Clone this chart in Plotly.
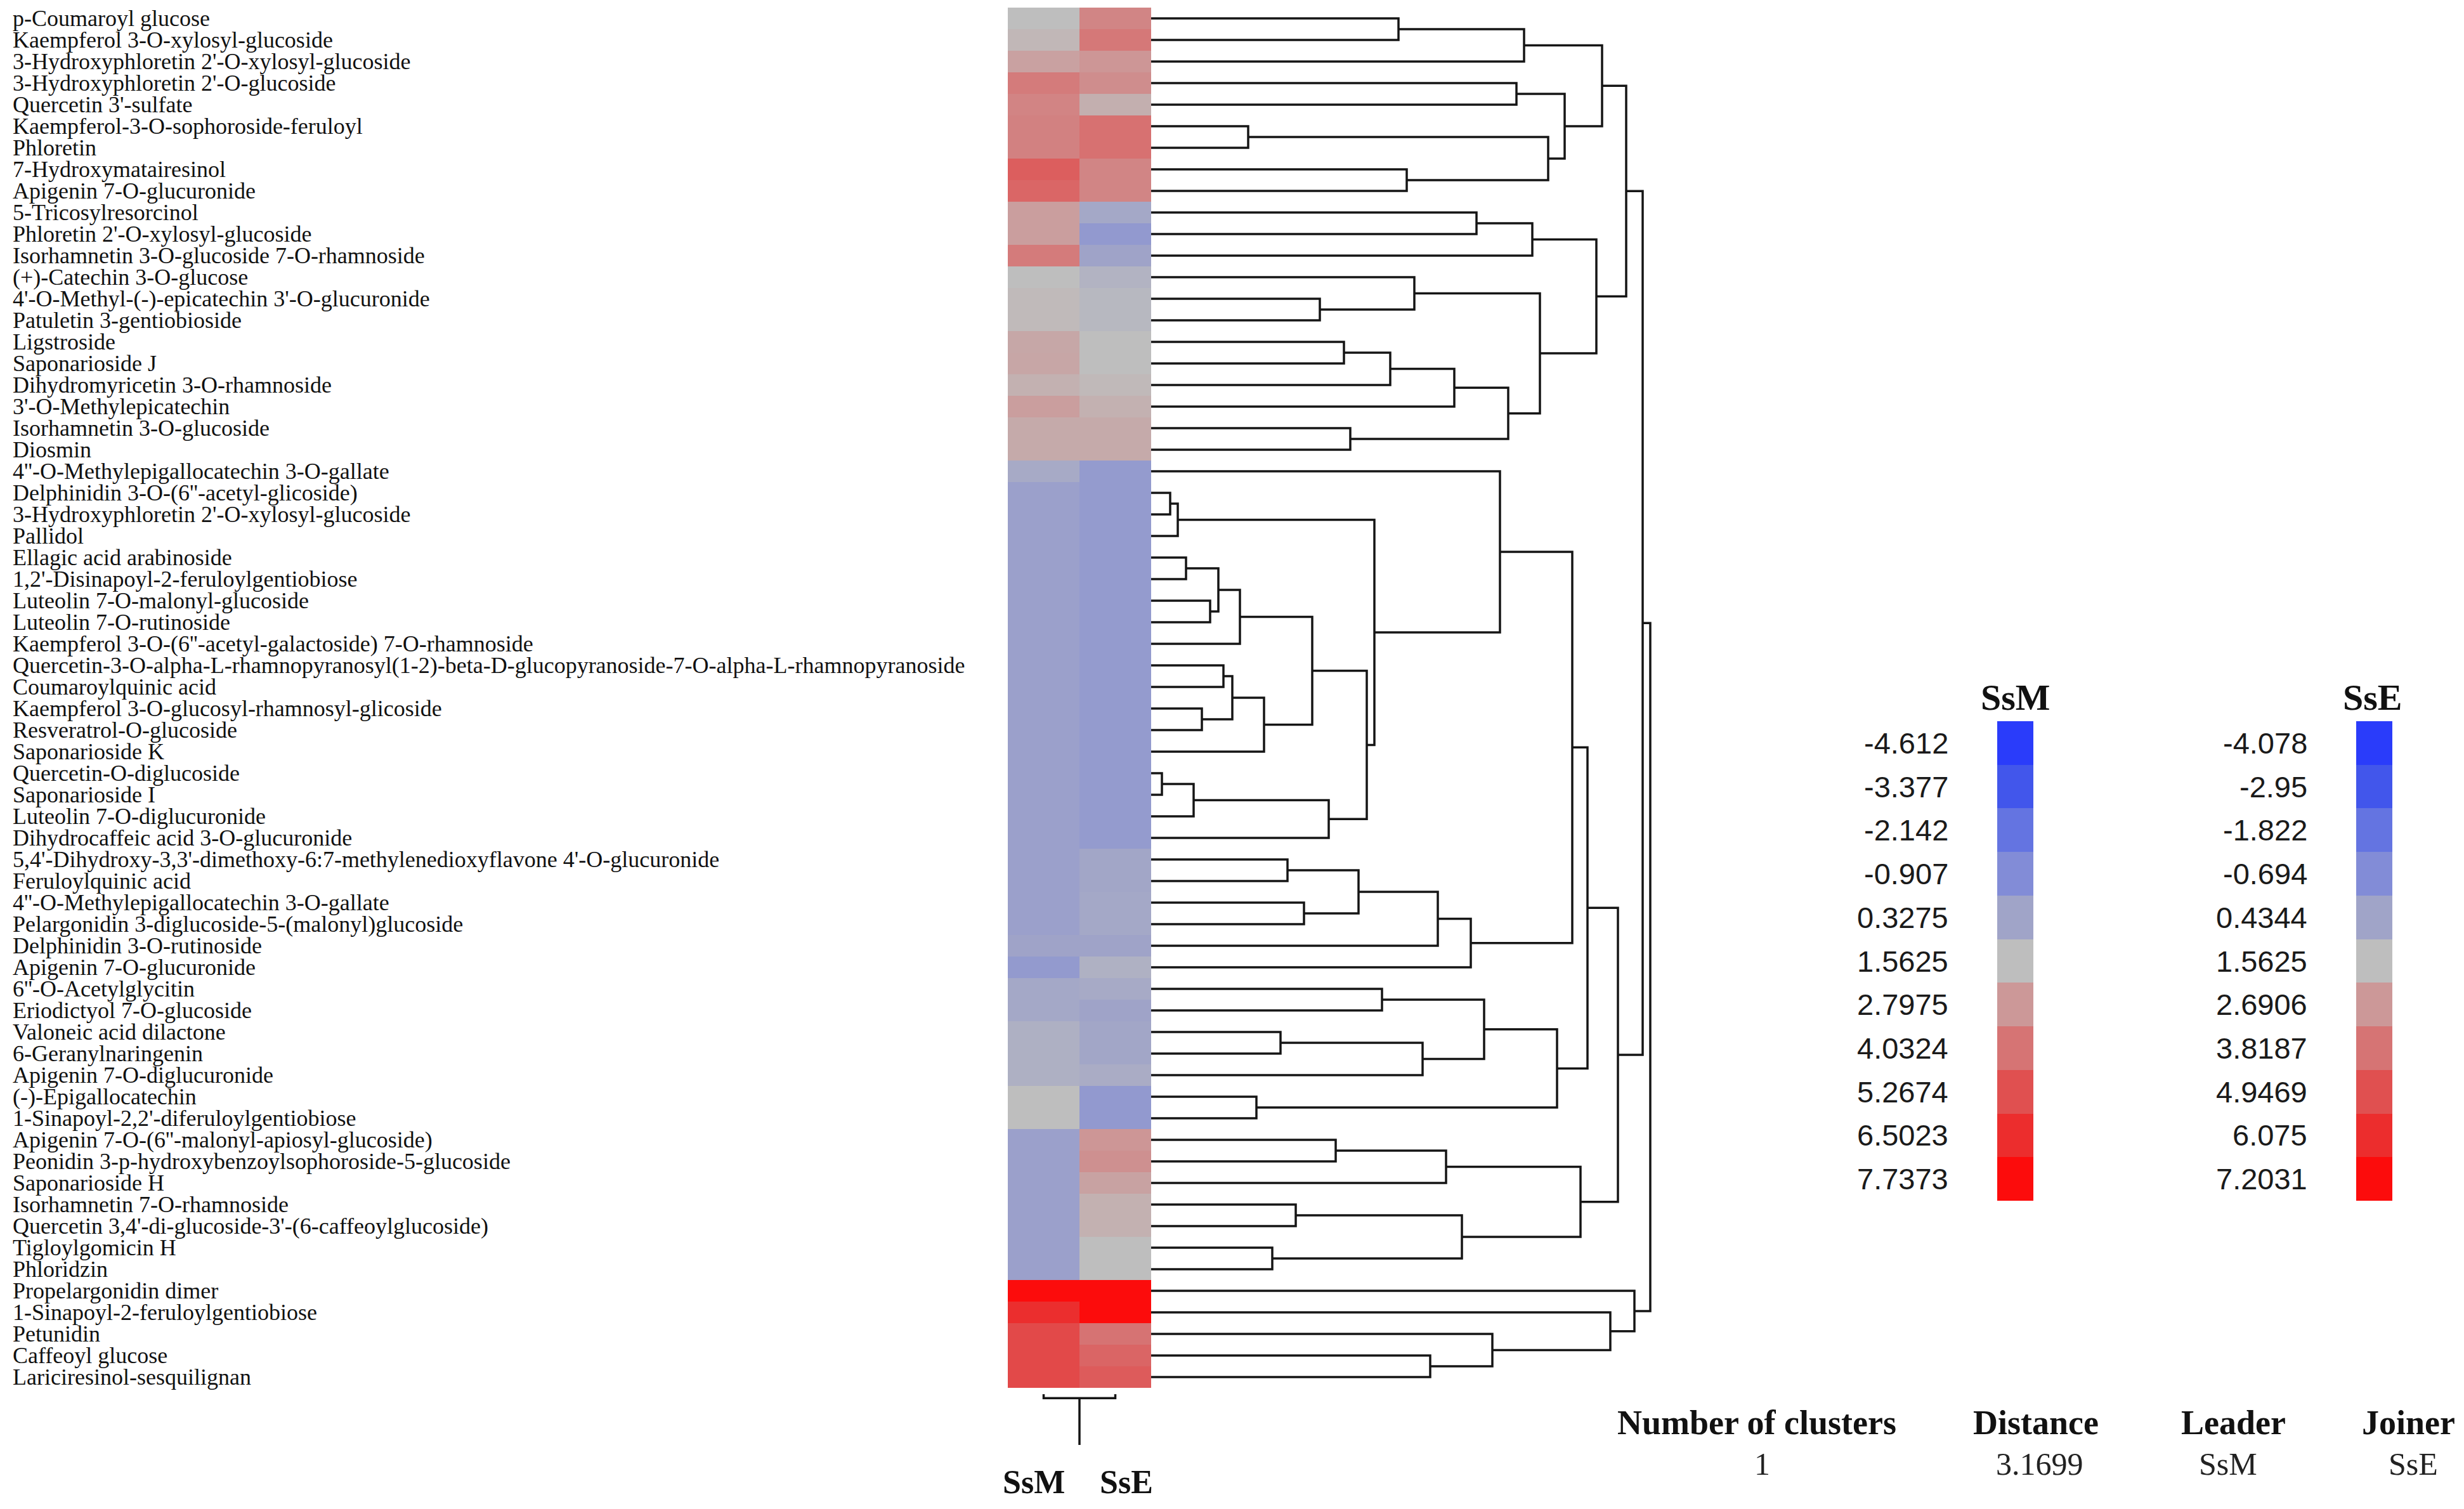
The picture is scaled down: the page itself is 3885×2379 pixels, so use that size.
import plotly.graph_objects as go

W, H = 3885, 2379

compounds = [
    "p-Coumaroyl glucose", "Kaempferol 3-O-xylosyl-glucoside",
    "3-Hydroxyphloretin 2'-O-xylosyl-glucoside", "3-Hydroxyphloretin 2'-O-glucoside",
    "Quercetin 3'-sulfate", "Kaempferol-3-O-sophoroside-feruloyl", "Phloretin",
    "7-Hydroxymatairesinol", "Apigenin 7-O-glucuronide", "5-Tricosylresorcinol",
    "Phloretin 2'-O-xylosyl-glucoside", "Isorhamnetin 3-O-glucoside 7-O-rhamnoside",
    "(+)-Catechin 3-O-glucose", "4'-O-Methyl-(-)-epicatechin 3'-O-glucuronide",
    "Patuletin 3-gentiobioside", "Ligstroside", "Saponarioside J",
    "Dihydromyricetin 3-O-rhamnoside", "3'-O-Methylepicatechin",
    "Isorhamnetin 3-O-glucoside", "Diosmin",
    "4''-O-Methylepigallocatechin 3-O-gallate", "Delphinidin 3-O-(6''-acetyl-glicoside)",
    "3-Hydroxyphloretin 2'-O-xylosyl-glucoside", "Pallidol", "Ellagic acid arabinoside",
    "1,2'-Disinapoyl-2-feruloylgentiobiose", "Luteolin 7-O-malonyl-glucoside",
    "Luteolin 7-O-rutinoside", "Kaempferol 3-O-(6''-acetyl-galactoside) 7-O-rhamnoside",
    "Quercetin-3-O-alpha-L-rhamnopyranosyl(1-2)-beta-D-glucopyranoside-7-O-alpha-L-rhamnopyranoside",
    "Coumaroylquinic acid", "Kaempferol 3-O-glucosyl-rhamnosyl-glicoside",
    "Resveratrol-O-glucoside", "Saponarioside K", "Quercetin-O-diglucoside",
    "Saponarioside I", "Luteolin 7-O-diglucuronide", "Dihydrocaffeic acid 3-O-glucuronide",
    "5,4'-Dihydroxy-3,3'-dimethoxy-6:7-methylenedioxyflavone 4'-O-glucuronide",
    "Feruloylquinic acid", "4''-O-Methylepigallocatechin 3-O-gallate",
    "Pelargonidin 3-diglucoside-5-(malonyl)glucoside", "Delphinidin 3-O-rutinoside",
    "Apigenin 7-O-glucuronide", "6''-O-Acetylglycitin", "Eriodictyol 7-O-glucoside",
    "Valoneic acid dilactone", "6-Geranylnaringenin", "Apigenin 7-O-diglucuronide",
    "(-)-Epigallocatechin", "1-Sinapoyl-2,2'-diferuloylgentiobiose",
    "Apigenin 7-O-(6''-malonyl-apiosyl-glucoside)",
    "Peonidin 3-p-hydroxybenzoylsophoroside-5-glucoside", "Saponarioside H",
    "Isorhamnetin 7-O-rhamnoside", "Quercetin 3,4'-di-glucoside-3'-(6-caffeoylglucoside)",
    "Tigloylgomicin H", "Phloridzin", "Propelargonidin dimer",
    "1-Sinapoyl-2-feruloylgentiobiose", "Petunidin", "Caffeoyl glucose",
    "Lariciresinol-sesquilignan",
]

samples = ["SsM", "SsE"]

ssm_values = [
    1.56, 1.8, 2.5, 3.8, 3.5, 3.6, 3.6, 4.8, 4.5, 2.6,
    2.6, 3.8, 1.56, 1.7, 1.7, 2.3, 2.35, 2.0, 2.6, 2.2,
    2.2, 0.6, 0.12, 0.12, 0.12, 0.12, 0.12, 0.12, 0.12, 0.12,
    0.12, 0.12, 0.12, 0.12, 0.12, 0.12, 0.12, 0.12, 0.12, 0.12,
    0.12, 0.12, 0.12, 0.3, -0.2, 0.5, 0.5, 0.9, 0.9, 0.9,
    1.56, 1.56, 0.12, 0.12, 0.12, 0.12, 0.12, 0.12, 0.12, 7.74,
    6.45, 5.5, 5.5, 5.5,
]

sse_values = [
    3.3, 3.7, 2.75, 3.05, 2.0, 3.9, 3.9, 3.3, 3.3, 0.6,
    -0.1, 0.4, 1.1, 1.3, 1.3, 1.56, 1.56, 1.7, 1.95, 2.15,
    2.15, 0.0, 0.0, 0.0, 0.0, 0.0, 0.0, 0.0, 0.0, 0.0,
    0.0, 0.0, 0.0, 0.0, 0.0, 0.0, 0.0, 0.0, 0.0, 0.5,
    0.5, 0.6, 0.6, 0.4, 1.0, 0.7, 0.4, 0.5, 0.5, 0.8,
    -0.1, -0.1, 2.75, 2.95, 2.4, 1.95, 1.95, 1.56, 1.56, 7.2,
    7.2, 3.85, 4.3, 4.6,
]

ssm_levels = ["-4.612", "-3.377", "-2.142", "-0.907", "0.3275", "1.5625",
              "2.7975", "4.0324", "5.2674", "6.5023", "7.7373"]
sse_levels = ["-4.078", "-2.95", "-1.822", "-0.694", "0.4344", "1.5625",
              "2.6906", "3.8187", "4.9469", "6.075", "7.2031"]

level_colors = ["rgb(42,60,250)", "rgb(66,86,235)", "rgb(100,116,225)",
                "rgb(130,140,215)", "rgb(160,164,200)", "rgb(190,190,190)",
                "rgb(204,152,152)", "rgb(214,116,116)", "rgb(224,80,80)",
                "rgb(236,45,45)", "rgb(252,12,12)"]

# Row dendrogram merges (scipy-style: leaves 0..63, new cluster ids 64+k)
row_merges = [
    (0, 1, 3.90), (64, 2, 5.88), (3, 4, 5.76), (5, 6, 1.53), (7, 8, 4.03),
    (67, 68, 6.26), (66, 69, 6.52), (65, 70, 7.11), (9, 10, 5.13), (72, 11, 6.01),
    (13, 14, 2.66), (12, 74, 4.15), (15, 16, 3.04), (76, 17, 3.77), (77, 18, 4.78),
    (19, 20, 3.14), (78, 79, 5.63), (75, 80, 6.13), (73, 81, 7.02), (71, 82, 7.49),
    (22, 23, 0.30), (84, 24, 0.42), (25, 26, 0.55), (27, 28, 0.93), (86, 87, 1.06),
    (88, 29, 1.40), (30, 31, 1.14), (32, 33, 0.80), (90, 91, 1.28), (92, 34, 1.78),
    (89, 93, 2.54), (35, 36, 0.17), (95, 37, 0.67), (96, 38, 2.80), (94, 97, 3.40),
    (85, 98, 3.52), (21, 99, 5.50), (39, 40, 2.15), (41, 42, 2.41), (101, 102, 3.27),
    (103, 43, 4.52), (104, 44, 5.04), (100, 105, 6.64), (45, 46, 3.64), (47, 48, 2.04),
    (108, 49, 4.28), (107, 109, 5.25), (50, 51, 1.66), (110, 111, 6.40), (106, 112, 6.88),
    (52, 53, 2.91), (114, 54, 4.65), (55, 56, 2.28), (57, 58, 1.91), (116, 117, 4.90),
    (115, 118, 6.77), (113, 119, 7.36), (83, 120, 7.75), (62, 63, 4.40), (61, 122, 5.38),
    (60, 123, 7.24), (59, 124, 7.62), (121, 125, 7.87),
]

column_distance = 3.1699
table_headers = ["Number of clusters", "Distance", "Leader", "Joiner"]
table_values = ["1", "3.1699", "SsM", "SsE"]


def px_x(p):
    return p / W


def px_y(p):
    return 1 - p / H


n = len(compounds)
nl = len(level_colors)
colorscale = [[i / (nl - 1), c] for i, c in enumerate(level_colors)]
ssm_lv = [float(v) for v in ssm_levels]
sse_lv = [float(v) for v in sse_levels]

fig = go.Figure()

# heatmap columns
fig.add_trace(go.Heatmap(z=[[v] for v in ssm_values], x0=0, dx=1, y0=0, dy=1,
                         colorscale=colorscale, zmin=ssm_lv[0], zmax=ssm_lv[-1],
                         showscale=False, xaxis="x", yaxis="y"))
fig.add_trace(go.Heatmap(z=[[v] for v in sse_values], x0=1, dx=1, y0=0, dy=1,
                         colorscale=colorscale, zmin=sse_lv[0], zmax=sse_lv[-1],
                         showscale=False, xaxis="x", yaxis="y"))

# row dendrogram
pos = {i: (float(i), 0.0) for i in range(n)}
dx_, dy_ = [], []
for k, (a, b, h) in enumerate(row_merges):
    ya, ha = pos[a]
    yb, hb = pos[b]
    dx_ += [ha, h, h, hb, None]
    dy_ += [ya, ya, yb, yb, None]
    pos[n + k] = ((ya + yb) / 2, h)
fig.add_trace(go.Scatter(x=dx_, y=dy_, mode="lines", xaxis="x2", yaxis="y",
                         line=dict(color="#151515", width=3.5), hoverinfo="skip"))

# column dendrogram
root_len = 40
fig.add_trace(go.Scatter(
    x=[0, 0, 1, 1, None, 0.5, 0.5],
    y=[0, column_distance, column_distance, 0, None, column_distance, root_len],
    mode="lines", xaxis="x", yaxis="y3",
    line=dict(color="#151515", width=3.5), hoverinfo="skip"))

# legend bars
fig.add_trace(go.Heatmap(z=[[v] for v in ssm_lv], x0=0, dx=1, y0=0, dy=1,
                         colorscale=colorscale, zmin=ssm_lv[0], zmax=ssm_lv[-1],
                         showscale=False, xaxis="x4", yaxis="y4"))
fig.add_trace(go.Heatmap(z=[[v] for v in sse_lv], x0=0, dx=1, y0=0, dy=1,
                         colorscale=colorscale, zmin=sse_lv[0], zmax=sse_lv[-1],
                         showscale=False, xaxis="x5", yaxis="y5"))

hidden = dict(showgrid=False, zeroline=False, showticklabels=False, showline=False, ticks="")

HX0, HX1 = 1581, 1807
heat_y_dom = [px_y(2180), px_y(4)]
LY0, LY1 = 1129, 1885
fig.update_layout(
    width=W, height=H, margin=dict(l=0, r=0, t=0, b=0),
    paper_bgcolor="white", plot_bgcolor="white", showlegend=False,
    xaxis=dict(domain=[px_x(HX0), px_x(HX1)], range=[-0.5, 1.5], anchor="y", **hidden),
    yaxis=dict(domain=heat_y_dom, range=[n - 0.5, -0.5], anchor="x", **hidden),
    xaxis2=dict(domain=[px_x(HX1), px_x(HX1 + 800)], range=[0, 8.0], anchor="y", **hidden),
    yaxis3=dict(domain=[px_y(2270), px_y(2190)], range=[root_len, 0], anchor="x", **hidden),
    xaxis4=dict(domain=[px_x(3141), px_x(3198)], range=[-0.5, 0.5], anchor="y4", **hidden),
    yaxis4=dict(domain=[px_y(LY1), px_y(LY0)], range=[nl - 0.5, -0.5], anchor="x4", **hidden),
    xaxis5=dict(domain=[px_x(3707), px_x(3764)], range=[-0.5, 0.5], anchor="y5", **hidden),
    yaxis5=dict(domain=[px_y(LY1), px_y(LY0)], range=[nl - 0.5, -0.5], anchor="x5", **hidden),
)

serif = "Liberation Serif, Times New Roman, serif"
sans = "Liberation Sans, Arial, sans-serif"
ann = []
for i, name in enumerate(compounds):
    ann.append(dict(text=name, xref="paper", x=px_x(10), xanchor="left",
                    yref="y", y=i, yanchor="middle", showarrow=False,
                    font=dict(family=serif, size=36, color="#111")))

for i, t in enumerate(ssm_levels):
    ann.append(dict(text=t, xref="paper", x=px_x(3066), xanchor="right",
                    yref="y4", y=i, yanchor="middle", showarrow=False,
                    font=dict(family=sans, size=47, color="#1a1a1a")))
for i, t in enumerate(sse_levels):
    ann.append(dict(text=t, xref="paper", x=px_x(3632), xanchor="right",
                    yref="y5", y=i, yanchor="middle", showarrow=False,
                    font=dict(family=sans, size=47, color="#1a1a1a")))

ann.append(dict(text="<b>SsM</b>", xref="paper", x=px_x(3170), yref="paper", y=px_y(1091),
                xanchor="center", yanchor="middle", showarrow=False,
                font=dict(family=serif, size=58, color="#111")))
ann.append(dict(text="<b>SsE</b>", xref="paper", x=px_x(3733), yref="paper", y=px_y(1091),
                xanchor="center", yanchor="middle", showarrow=False,
                font=dict(family=serif, size=58, color="#111")))

for s, xc in zip(samples, [1622, 1768]):
    ann.append(dict(text="<b>%s</b>" % s, xref="paper", x=px_x(xc), yref="paper", y=px_y(2328),
                    xanchor="center", yanchor="middle", showarrow=False,
                    font=dict(family=serif, size=52, color="#111")))

for t, xc in zip(table_headers, [2762, 3202, 3513, 3789]):
    ann.append(dict(text="<b>%s</b>" % t, xref="paper", x=px_x(xc), yref="paper", y=px_y(2235),
                    xanchor="center", yanchor="middle", showarrow=False,
                    font=dict(family=serif, size=54, color="#111")))
for t, xc in zip(table_values, [2770, 3208, 3505, 3797]):
    ann.append(dict(text=t, xref="paper", x=px_x(xc), yref="paper", y=px_y(2300),
                    xanchor="center", yanchor="middle", showarrow=False,
                    font=dict(family=serif, size=50, color="#222")))

fig.update_layout(annotations=ann)
fig.write_html("out.html")
